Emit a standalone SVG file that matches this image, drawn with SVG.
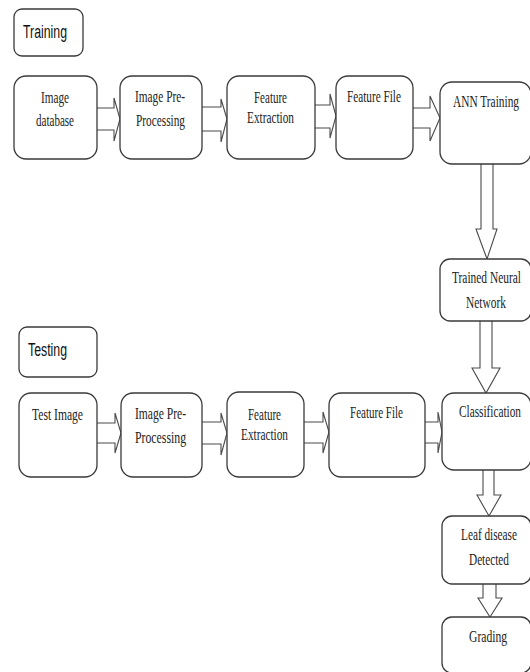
<svg xmlns="http://www.w3.org/2000/svg" width="530" height="672" viewBox="0 0 530 672">
<style>
.box{fill:#fff;stroke:#3a3a3a;stroke-width:1.3}
.arr{fill:#fff;stroke:#4a4a4a;stroke-width:1.1}
.t{font-family:"Liberation Serif","Times New Roman",serif;font-size:17px;fill:#222}
.h{font-family:"Liberation Sans",Arial,sans-serif;font-size:18px;fill:#111}
</style>
<rect width="530" height="672" fill="#fff"/>
<g id="connectors">
<path class="arr" d="M97,108 H114 V98 L120,119 L114,141 V130 H97"/>
<path class="arr" d="M202,107 H221 V99 L227,119 L221,142 V131 H202"/>
<path class="arr" d="M315,105 H330 V94 L336,116 L330,138 V128 H315"/>
<path class="arr" d="M413,108 H430 V96 L440,118 L430,141 V128 H413"/>
<path class="arr" d="M97,423 H115 V413 L121,433 L115,453 V443 H97"/>
<path class="arr" d="M202,422 H221 V413 L227,433 L221,455 V444 H202"/>
<path class="arr" d="M304,422 H323 V412 L329,432 L323,453 V443 H304"/>
<path class="arr" d="M425,422 H438 V412 L442,432 L438,453 V443 H425"/>
<path class="arr" d="M481,164 V229 H476 L487,259 L497,229 H493 V164"/>
<path class="arr" d="M480,321 V368 H472 L486,393 L500,368 H492 V321"/>
<path class="arr" d="M483,470 V495 H477 L489,516 L501,495 H494 V470"/>
<path class="arr" d="M483,584 V598 H478 L490,617 L502,598 H496 V584"/>
</g>
<g id="training-label"><rect class="box" x="14" y="9" width="69" height="47" rx="8"/><text class="h" transform="translate(23,38) scale(0.68,1)" textLength="64.7" lengthAdjust="spacingAndGlyphs">Training</text></g>
<g id="image-database"><rect class="box" x="14" y="76" width="83" height="83" rx="12"/><text class="t" transform="translate(41,103) scale(0.66,1)" textLength="42.4" lengthAdjust="spacingAndGlyphs">Image</text><text class="t" transform="translate(36,126) scale(0.66,1)" textLength="57.6" lengthAdjust="spacingAndGlyphs">database</text></g>
<g id="train-preprocessing"><rect class="box" x="120" y="76" width="82" height="83" rx="12"/><text class="t" transform="translate(135,102) scale(0.66,1)" textLength="75.8" lengthAdjust="spacingAndGlyphs">Image Pre-</text><text class="t" transform="translate(136,126) scale(0.66,1)" textLength="74.2" lengthAdjust="spacingAndGlyphs">Processing</text></g>
<g id="train-feature-extraction"><rect class="box" x="227" y="76" width="88" height="83" rx="12"/><text class="t" transform="translate(254,103) scale(0.66,1)" textLength="50" lengthAdjust="spacingAndGlyphs">Feature</text><text class="t" transform="translate(247,123) scale(0.66,1)" textLength="71.2" lengthAdjust="spacingAndGlyphs">Extraction</text></g>
<g id="train-feature-file"><rect class="box" x="336" y="76" width="77" height="83" rx="12"/><text class="t" transform="translate(347,102) scale(0.66,1)" textLength="81.8" lengthAdjust="spacingAndGlyphs">Feature File</text></g>
<g id="ann-training"><rect class="box" x="440" y="82" width="91" height="82" rx="12"/><text class="t" transform="translate(453,107) scale(0.66,1)" textLength="100" lengthAdjust="spacingAndGlyphs">ANN Training</text></g>
<g id="trained-nn"><rect class="box" x="440" y="259" width="91" height="62" rx="10"/><text class="t" transform="translate(452,283) scale(0.66,1)" textLength="104.5" lengthAdjust="spacingAndGlyphs">Trained Neural</text><text class="t" transform="translate(466,308) scale(0.66,1)" textLength="60.6" lengthAdjust="spacingAndGlyphs">Network</text></g>
<g id="testing-label"><rect class="box" x="19" y="327" width="78" height="50" rx="8"/><text class="h" transform="translate(28,356) scale(0.68,1)" textLength="57.4" lengthAdjust="spacingAndGlyphs">Testing</text></g>
<g id="test-image"><rect class="box" x="19" y="393" width="78" height="84" rx="12"/><text class="t" transform="translate(32,420) scale(0.66,1)" textLength="77.3" lengthAdjust="spacingAndGlyphs">Test Image</text></g>
<g id="test-preprocessing"><rect class="box" x="121" y="393" width="81" height="84" rx="12"/><text class="t" transform="translate(135,419) scale(0.66,1)" textLength="77.3" lengthAdjust="spacingAndGlyphs">Image Pre-</text><text class="t" transform="translate(135,443) scale(0.66,1)" textLength="77.3" lengthAdjust="spacingAndGlyphs">Processing</text></g>
<g id="test-feature-extraction"><rect class="box" x="227" y="392" width="77" height="85" rx="12"/><text class="t" transform="translate(248,420) scale(0.66,1)" textLength="50" lengthAdjust="spacingAndGlyphs">Feature</text><text class="t" transform="translate(241,440) scale(0.66,1)" textLength="71.2" lengthAdjust="spacingAndGlyphs">Extraction</text></g>
<g id="test-feature-file"><rect class="box" x="329" y="393" width="96" height="84" rx="12"/><text class="t" transform="translate(350,418) scale(0.66,1)" textLength="80.3" lengthAdjust="spacingAndGlyphs">Feature File</text></g>
<g id="classification"><rect class="box" x="442" y="393" width="89" height="77" rx="12"/><text class="t" transform="translate(459,417) scale(0.66,1)" textLength="93.9" lengthAdjust="spacingAndGlyphs">Classification</text></g>
<g id="leaf-disease"><rect class="box" x="442" y="516" width="89" height="68" rx="10"/><text class="t" transform="translate(461,540) scale(0.66,1)" textLength="84.8" lengthAdjust="spacingAndGlyphs">Leaf disease</text><text class="t" transform="translate(469,565) scale(0.66,1)" textLength="60.6" lengthAdjust="spacingAndGlyphs">Detected</text></g>
<g id="grading"><rect class="box" x="442" y="617" width="89" height="56" rx="10"/><text class="t" transform="translate(469,642) scale(0.66,1)" textLength="57.6" lengthAdjust="spacingAndGlyphs">Grading</text></g>
</svg>
